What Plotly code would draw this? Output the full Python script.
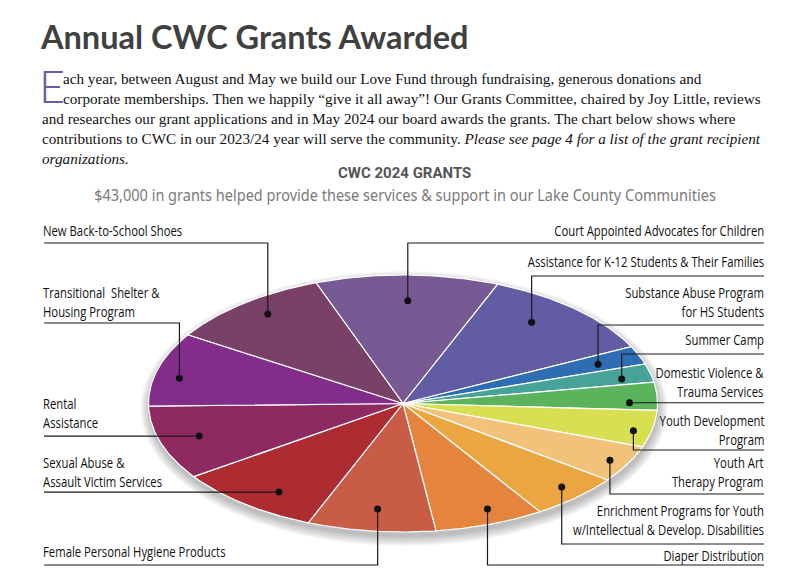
import numpy as np
import plotly.graph_objects as go

# ---------------- data ----------------
categories = [
    "Court Appointed Advocates for Children",
    "Assistance for K-12 Students & Their Families",
    "Substance Abuse Program for HS Students",
    "Summer Camp",
    "Domestic Violence & Trauma Services",
    "Youth Development Program",
    "Youth Art Therapy Program",
    "Enrichment Programs for Youth w/Intellectual & Develop. Disabilities",
    "Diaper Distribution",
    "Female Personal Hygiene Products",
    "Sexual Abuse & Assault Victim Services",
    "Rental Assistance",
    "Transitional Shelter & Housing Program",
    "New Back-to-School Shoes",
]
grant_amounts = [5000, 5000, 1000, 1000, 1500, 2000, 2000, 2500, 3000, 3500, 4000, 4000, 4000, 4500]

label_text = [
    "Court Appointed Advocates for Children",
    "Assistance for K-12 Students & Their Families",
    "Substance Abuse Program<br>for HS Students",
    "Summer Camp",
    "Domestic Violence &<br>Trauma Services",
    "Youth Development<br>Program",
    "Youth Art<br>Therapy Program",
    "Enrichment Programs for Youth<br>w/Intellectual & Develop. Disabilities",
    "Diaper Distribution",
    "Female Personal Hygiene Products",
    "Sexual Abuse &<br>Assault Victim Services",
    "Rental<br>Assistance",
    "Transitional&nbsp; Shelter &<br>Housing Program",
    "New Back-to-School Shoes",
]
colors = ["#775a94", "#625ca5", "#2e6db4", "#47a39a", "#5bb35b", "#d8e052", "#f3c27a",
          "#eca641", "#e5843c", "#c95c44", "#ad2c31", "#8e2a60", "#832d8a", "#7a4168"]

title = "Annual CWC Grants Awarded"
para_lines = [
    "ach year, between August and May we build our Love Fund through fundraising, generous donations and",
    "corporate memberships. Then we happily \u201cgive it all away\u201d! Our Grants Committee, chaired by Joy Little, reviews",
    "and researches our grant applications and in May 2024 our board awards the grants. The chart below shows where",
    "contributions to CWC in our 2023/24 year will serve the community. <i>Please see page 4 for a list of the grant recipient</i>",
    "<i>organizations.</i>",
]
chart_title = "CWC 2024 GRANTS"
chart_sub = "$43,000 in grants helped provide these services & support in our Lake County Communities"

# ---------------- layout constants (pixels) ----------------
W, H = 812, 588
CX, CY, RX, RY = 403, 403.5, 254.5, 128.5
START_DEG = 110.0
side = ["r"] * 9 + ["l"] * 5
label_y = [231, 262, 302, 340, 382, 430.5, 472.5, 520.5, 556, 552, 472, 413, 302, 231]
leader_y = [243, 276, 325, 354, None, 450, 494, 544, 565, 565, None, None, 323, 243]
DOT_T = [.51, .40, .54, .65, .73, .61, .52, .46, .42, .49, .40, .51, .41, .54]
DOT_R = [.80, .81, .825, .88, .89, .93, .925, .90, .886, .827, .844, .84, .90, .876]
LEFT_X, RIGHT_X = 44, 764
COND_SCALE = 0.78      # horizontal squeeze for labels (condensed face)
SUB_SCALE = 0.855      # horizontal squeeze for the subtitle

SERIF = "Liberation Serif, Times New Roman, serif"
COND = "Open Sans, sans-serif"
SUBF = "Noto Sans, sans-serif"

fig = go.Figure()

# shadow
for i in range(7):
    g = 1.5 * i
    fig.add_shape(type="circle", xref="x", yref="y",
                  x0=CX - RX - g + 1, x1=CX + RX + g + 1,
                  y0=CY - RY - g + 5, y1=CY + RY + g + 5,
                  fillcolor="rgba(0,0,0,0.04)", line=dict(width=0), layer="below")

total = sum(grant_amounts)
ang = START_DEG
starts, ends = [], []
for v, c, name in zip(grant_amounts, colors, categories):
    w = 360.0 * v / total
    a0, a1 = ang, ang - w
    starts.append(a0)
    ends.append(a1)
    n = max(8, int(w * 2))
    th = np.radians(np.linspace(a0, a1, n))
    xs = np.concatenate([[CX], CX + RX * np.cos(th), [CX]])
    ys = np.concatenate([[CY], CY - RY * np.sin(th), [CY]])
    fig.add_trace(go.Scatter(x=xs, y=ys, mode="lines", fill="toself", fillcolor=c,
                             line=dict(color="white", width=1.2), name=name,
                             hoverinfo="name", showlegend=False))
    ang = a1

# leaders and dots
dx_list, dy_list = [], []
for i in range(len(grant_amounts)):
    a = np.radians(starts[i] + (ends[i] - starts[i]) * DOT_T[i])
    dx = CX + DOT_R[i] * RX * np.cos(a)
    dy = CY - DOT_R[i] * RY * np.sin(a)
    dx_list.append(dx)
    dy_list.append(dy)
    ly = leader_y[i] if leader_y[i] is not None else dy
    x_end = RIGHT_X if side[i] == "r" else LEFT_X
    fig.add_trace(go.Scatter(x=[x_end, dx, dx], y=[ly, ly, dy], mode="lines",
                             line=dict(color="#1a1a1a", width=1.2),
                             hoverinfo="skip", showlegend=False))
    fig.add_annotation(x=x_end + (2 if side[i] == "r" else -3), y=label_y[i] - 0.5,
                       xref="x", yref="y", text=label_text[i],
                       showarrow=False, xanchor="right" if side[i] == "r" else "left",
                       yanchor="middle", align="right" if side[i] == "r" else "left",
                       font=dict(family=COND, size=14.5, color="#111111"))
fig.add_trace(go.Scatter(x=dx_list, y=dy_list, mode="markers",
                         marker=dict(color="#111111", size=7),
                         hoverinfo="skip", showlegend=False))

# title & text
fig.add_annotation(x=38, y=36, xref="x", yref="y", text=title, showarrow=False,
                   xanchor="left", yanchor="middle",
                   font=dict(family="Lato, sans-serif", size=32.5, color="#404040", weight=700))
fig.add_annotation(x=37, y=86, xref="x", yref="y", text="E", showarrow=False,
                   xanchor="left", yanchor="middle",
                   font=dict(family="Lato, sans-serif", size=45, color="#6b5ba7", weight=300))
para_x = [61, 61, 40, 40, 40]
para_y = [78, 98, 118, 138, 158]
for t, px, py in zip(para_lines, para_x, para_y):
    fig.add_annotation(x=px, y=py, xref="x", yref="y", text=t, showarrow=False,
                       xanchor="left", yanchor="middle",
                       font=dict(family=SERIF, size=15.2, color="#111111"))
fig.add_annotation(x=404, y=173, xref="x", yref="y", text="<b>" + chart_title + "</b>",
                   showarrow=False, xanchor="center", yanchor="middle",
                   font=dict(family="Roboto, sans-serif", size=15, color="#555555"))
fig.add_annotation(x=405, y=194, xref="x", yref="y", text=chart_sub,
                   showarrow=False, xanchor="center", yanchor="middle",
                   font=dict(family=SUBF, size=17, color="#7a7a7a"))

fig.update_layout(
    width=W, height=H, margin=dict(l=0, r=0, t=0, b=0),
    paper_bgcolor="white", plot_bgcolor="white",
    xaxis=dict(range=[0, W], visible=False, fixedrange=True),
    yaxis=dict(range=[H, 0], visible=False, fixedrange=True),
    showlegend=False,
)

post = """
document.body.style.margin = '0';
var SCALES = [['Open Sans', %s], ['Noto Sans', %s]];
document.querySelectorAll('text.annotation-text').forEach(function (t) {
  var ff = t.style.fontFamily || '';
  var S = null;
  SCALES.forEach(function (p) { if (ff.indexOf(p[0]) >= 0) S = p[1]; });
  if (S === null) return;
  var bb = t.getBBox();
  var anc = t.getAttribute('text-anchor') || t.style.textAnchor || 'start';
  var ax = anc === 'end' ? bb.x + bb.width : (anc === 'middle' ? bb.x + bb.width / 2 : bb.x);
  var tr = t.getAttribute('transform') || '';
  t.setAttribute('transform', tr + ' translate(' + ax + ',0) scale(' + S + ',1) translate(' + (-ax) + ',0)');
});
""" % (COND_SCALE, SUB_SCALE)

fig.write_html("out.html", config={"displayModeBar": False}, post_script=post)
